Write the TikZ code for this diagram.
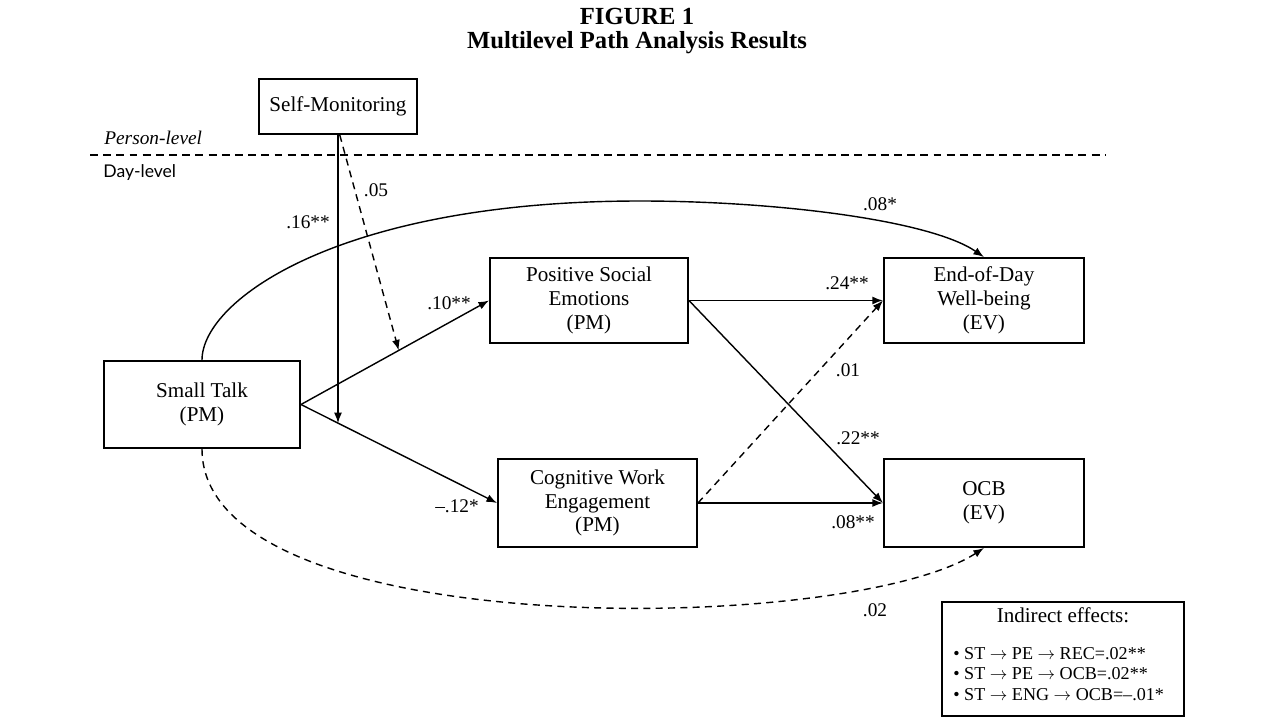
\documentclass[tikz,border=0pt]{standalone}
\usepackage{fontspec}
\setmainfont{Liberation Serif}
\newfontfamily\daylevelfont{Lato}
\usetikzlibrary{calc, positioning, arrows.meta}
\tikzset{
    var_node/.style={rectangle, minimum width=3.96cm, minimum height=1.72cm, text centered, align=center, draw=black, line width=1.1pt, font=\fontsize{12}{13.5}\selectfont},
    title_text/.style={font=\fontsize{14}{16}\selectfont\bfseries, inner sep=0pt},
    coef/.style={font=\fontsize{11}{13}\selectfont, inner sep=1pt},
    legend_text/.style={font=\fontsize{10.3}{12}\selectfont, inner sep=0pt, text height=7.2pt, text depth=2pt, anchor=base west},
    arrow/.style={line width=0.8pt, -{Latex[length=6pt, width=4.5pt]}},
    dashed_arrow/.style={line width=0.8pt, -{Latex[length=6pt, width=4.5pt]}, dash pattern=on 4pt off 3pt},
    level_line/.style={line width=0.8pt, dash pattern=on 4.5pt off 3pt},
}

\begin{document}
\begin{tikzpicture}
      \useasboundingbox (0,0) rectangle (25.6,-14.4);

      \node (title) at (12.74,-0.32) [title_text]{FIGURE 1};
      \node (subtitle) at (12.74,-0.86) [title_text]{Multilevel Path Analysis Results};

      % variables
      \node (sm) at (6.76,-2.13) [var_node, minimum width=3.16cm, minimum height=1.1cm]{Self-Monitoring};
      \node (st) at (4.04,-8.09) [var_node, minimum width=3.92cm, minimum height=1.74cm]{Small Talk\\(PM)};
      \node (pse) at (11.78,-6.01) [var_node, minimum height=1.7cm]{Positive Social\\Emotions\\(PM)};
      \node (eod) [var_node, minimum width=4cm, minimum height=1.7cm, right=3.88cm of pse]{End-of-Day\\Well-being\\(EV)};
      \node (cwe) at (11.95,-10.06) [var_node, minimum width=3.98cm, minimum height=1.76cm]{Cognitive Work\\Engagement\\(PM)};
      \node (ocb) at (cwe -| eod) [var_node, minimum width=4cm, minimum height=1.76cm]{OCB\\(EV)};

      % levels
      \coordinate (level_l) at (1.8,-3.1);
      \coordinate (level_r) at (22.1,-3.1);
      \draw [level_line] (level_l) -- (level_r);
      \node (person) at (2.08,-2.76) [anchor=west, inner sep=0pt, font=\fontsize{11}{13}\selectfont\itshape]{Person-level};
      \node (day) at (2.06,-3.46) [anchor=west, inner sep=0pt, font=\fontsize{10}{12}\selectfont\daylevelfont]{Day-level};

      % paths
      \coordinate (mod_eng) at ($(st.east)!0.19!(cwe.west)$);
      \coordinate (mod_pse) at ($(st.east)!0.52!(pse.west)$);
      \coordinate (arc_top) at (12.8,-4.02);

      \draw [arrow] (st.east) -- (pse.west);
      \draw [arrow] (st.east) -- (cwe.west);
      \draw [arrow] (sm.south) -- (sm.south |- mod_eng);
      \draw [dashed_arrow] ([xshift=1pt]sm.south) -- (mod_pse);
      \draw [arrow] (st.north) .. controls (4.04,-6.0) and (6.8,-4.02) .. (arc_top)
                               .. controls (15.5,-4.02) and (18.6,-4.4) .. (eod.north);
      \draw [dashed_arrow] (st.south) .. controls (4.04,-12.9) and (17,-12.7) .. (ocb.south);
      \draw [arrow] (pse.east) -- (eod.west);
      \draw [arrow] (pse.east) -- (ocb.west);
      \draw [arrow] (cwe.east) -- (ocb.west);
      \draw [dashed_arrow] (cwe.east) -- (eod.west);

      % coefficients
      \node (c_sm_pse) at (7.52,-3.8) [coef]{.05};
      \node (c_sm_eng) at (6.16,-4.44) [coef]{.16**};
      \node (c_st_pse) at (8.98,-6.06) [coef]{.10**};
      \node (c_st_eng) at (9.14,-10.12) [coef]{\textendash.12*};
      \node (c_st_eod) at (17.6,-4.08) [coef]{.08*};
      \node (c_pse_eod) at (16.94,-5.66) [coef]{.24**};
      \node (c_eng_eod) at (16.96,-7.4) [coef]{.01};
      \node (c_pse_ocb) at (17.16,-8.76) [coef]{.22**};
      \node (c_eng_ocb) at (17.06,-10.44) [coef]{.08**};
      \node (c_st_ocb) at (17.5,-12.2) [coef]{.02};

      % indirect effects
      \node (ind_box) at (21.26,-13.18) [draw=black, line width=1.1pt, minimum width=4.84cm, minimum height=2.28cm]{};
      \node (ind_title) at (21.26,-12.3) [inner sep=0pt, font=\fontsize{12}{13}\selectfont]{Indirect effects:};
      \node (ind_1) at (19.06,-13.18) [legend_text]{\textbullet{} ST $\rightarrow$ PE $\rightarrow$ REC=.02**};
      \node (ind_2) at (19.06,-13.59) [legend_text]{\textbullet{} ST $\rightarrow$ PE $\rightarrow$ OCB=.02**};
      \node (ind_3) at (19.06,-14.0) [legend_text]{\textbullet{} ST $\rightarrow$ ENG $\rightarrow$ OCB=\textendash.01*};
\end{tikzpicture}
\end{document}
